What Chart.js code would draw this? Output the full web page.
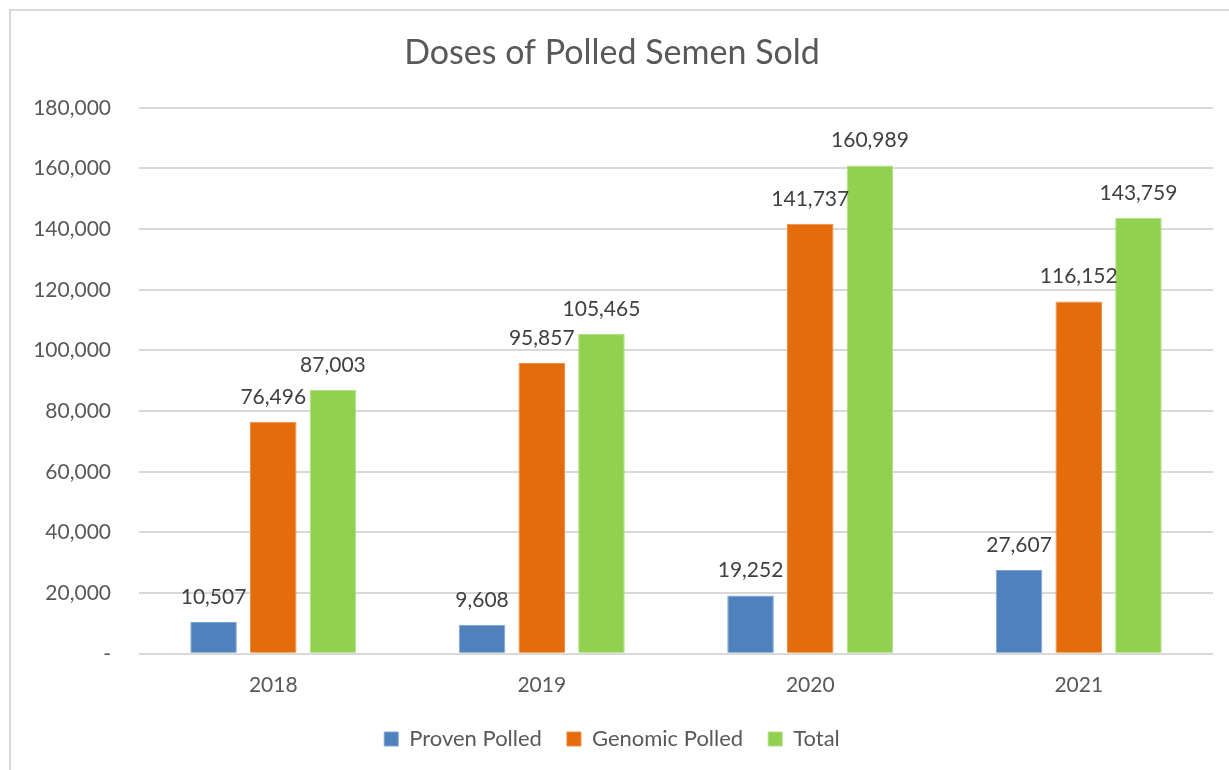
<!DOCTYPE html>
<html>
<head>
<meta charset="utf-8">
<script src="https://cdn.jsdelivr.net/npm/chart.js"></script>
<style>
html,body{margin:0;padding:0;background:#fff;overflow:hidden}
#box{position:absolute;left:9px;top:9px;width:1250px;height:790px;border:2px solid #d9d9d9}
#c{position:absolute;left:0;top:0}
</style>
</head>
<body>
<div id="box"><canvas id="c" width="1218" height="759"></canvas></div>
<script>
const years=['2018','2019','2020','2021'];
const provenPolled=[10507,9608,19252,27607];
const genomicPolled=[76496,95857,141737,116152];
const total=[87003,105465,160989,143759];

const FONT='Lato, "Open Sans", sans-serif';
const fmt=v=>v.toLocaleString('en-US');

// value labels above each bar
const barLabels={
  id:'barLabels',
  afterDatasetsDraw(chart){
    const ctx=chart.ctx;
    ctx.save();
    ctx.font='21px '+FONT;
    ctx.fillStyle='#404040';
    ctx.textAlign='center';
    ctx.textBaseline='alphabetic';
    chart.data.datasets.forEach((ds,i)=>{
      chart.getDatasetMeta(i).data.forEach((bar,j)=>{
        ctx.fillText(fmt(ds.data[j]),bar.x,bar.y-18);
      });
    });
    ctx.restore();
  }
};

new Chart(document.getElementById('c'),{
  type:'bar',
  data:{
    labels:years,
    datasets:[
      {label:'Proven Polled',data:provenPolled,backgroundColor:'#4f81bd',borderColor:'#7ea3d2',borderWidth:1},
      {label:'Genomic Polled',data:genomicPolled,backgroundColor:'#e46c0a',borderColor:'#f08c44',borderWidth:1},
      {label:'Total',data:total,backgroundColor:'#92d050',borderColor:'#b0e080',borderWidth:1}
    ]
  },
  options:{
    responsive:false,
    animation:false,
    categoryPercentage:0.667,
    barPercentage:0.78,
    layout:{padding:{left:0,right:16,top:0,bottom:10}},
    plugins:{
      title:{display:true,text:'Doses of Polled Semen Sold',color:'#595959',
        font:{family:FONT,size:34,weight:'normal'},padding:{top:22,bottom:34}},
      legend:{position:'bottom',
        labels:{color:'#595959',font:{family:FONT,size:22},boxWidth:14,boxHeight:14,padding:25}},
      tooltip:{enabled:false}
    },
    scales:{
      x:{
        grid:{display:false,drawTicks:false},
        border:{display:false},
        ticks:{color:'#595959',font:{family:FONT,size:21},padding:19},
        afterFit(s){s.height=s.height-14;}
      },
      y:{
        min:0,max:180000,
        grid:{color:'#d9d9d9',lineWidth:2,drawTicks:false},
        border:{display:false},
        ticks:{stepSize:20000,color:'#595959',font:{family:FONT,size:21},padding:28,
          callback:v=>v===0?'-':fmt(v)},
        afterFit(s){s.width=128;}
      }
    }
  },
  plugins:[barLabels]
});
</script>
</body>
</html>
